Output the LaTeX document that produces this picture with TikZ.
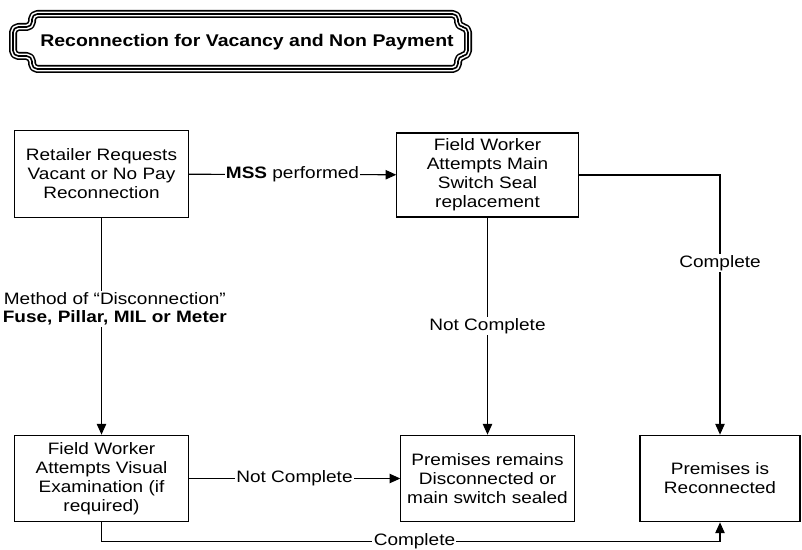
\documentclass[tikz,border=0pt]{standalone}
\usepackage{fontspec}
\setmainfont[FakeStretch=1.15]{Liberation Sans}
\usepackage{tikz}
\usetikzlibrary{arrows.meta,positioning}
\tikzset{
  flow/.style={line width=0.8pt, -{Triangle[length=8pt,width=7pt]}},
  stage/.style={
    draw,
    line width=0.8pt,
    fill=white,
    align=center,
    font=\fontsize{12.4}{14.25}\selectfont,
    inner sep=2pt,
    minimum width=130pt,
    minimum height=65pt
  },
  cond/.style={fill=white, inner sep=1pt, align=center, font=\fontsize{12.4}{13.5}\selectfont}
}
\newcommand{\bannerframe}[1]{%
  \foreach \w/\c in {6pt/black,3.6pt/white,1.2pt/black}
    \draw[line width=\w, draw=\c, rounded corners=4pt, line join=round]
      (32,27) -- (32,14) -- (458,14) -- (458,27) -- (468,27) -- (468,56) -- (458,56)
      -- (458,69) -- (32,69) -- (32,56) -- (13,56) -- (13,27) -- cycle;
  \node[font=\bfseries\fontsize{12.7}{15}\selectfont] (title) at (247,42) {#1};
}

\begin{document}
\begin{tikzpicture}[x=0.75pt,y=-0.75pt]
\useasboundingbox (0,0) rectangle (802,549);
\fill[white] (0,0) rectangle (802,549);
\bannerframe{Reconnection for Vacancy and Non Payment}

\node[stage] (request) at (101.5,174) {Retailer Requests\\Vacant or No Pay\\Reconnection};
\node[stage, minimum width=136pt, minimum height=63pt] (mss) at (487.5,175) {Field Worker\\Attempts Main\\Switch Seal\\replacement};
\node[stage] (visual) at (101.5,478.5) {Field Worker\\Attempts Visual\\Examination (if\\required)};
\node[stage] (remains) at (487.5,478.5) {Premises remains\\Disconnected or\\main switch sealed};
\node[stage, minimum width=120pt] (done) at (720,478.5) {Premises is\\Reconnected};

\draw[flow] (request) -- node[cond] {\textbf{MSS} performed} (mss);
\draw[flow] (request) -- node[cond, pos=0.42, xshift=10pt] {Method of “Disconnection”\\\textbf{Fuse, Pillar, MIL or Meter}} (visual);
\draw[flow] (mss) -- node[cond] {Not Complete} (remains);
\draw[flow] (mss.east) -| node[cond, pos=0.67] {Complete} (done.north);
\draw[flow] (visual) -- node[cond] {Not Complete} (remains);
\draw[flow] (visual.south) -- ++(0,19) -| node[cond, pos=0.253] {Complete} (done.south);
\end{tikzpicture}
\end{document}
